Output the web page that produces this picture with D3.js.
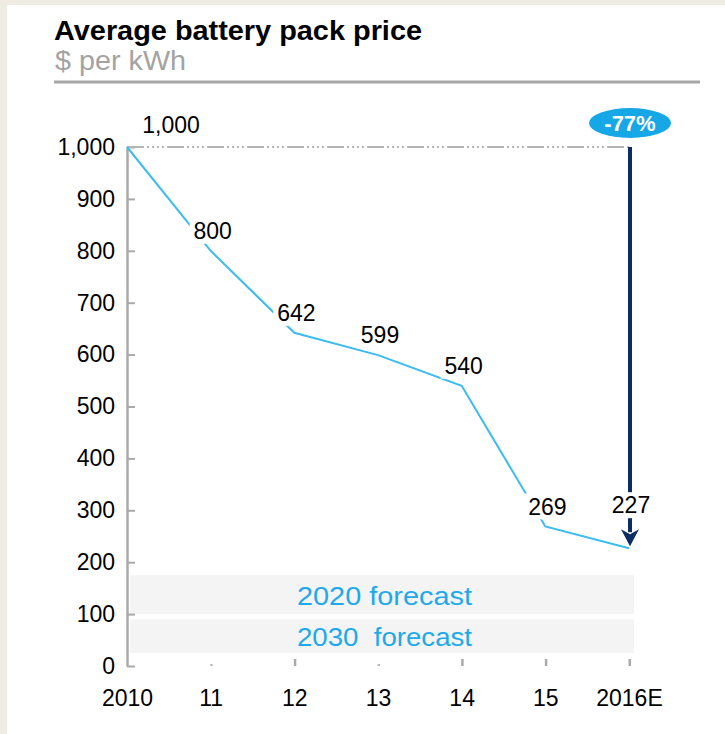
<!DOCTYPE html>
<html>
<head>
<meta charset="utf-8">
<script src="https://cdn.jsdelivr.net/npm/d3@7"></script>
<style>
  html, body { margin: 0; padding: 0; background: #efece3; }
  svg { display: block; }
  text { font-family: "Liberation Sans", Arial, sans-serif; }
</style>
</head>
<body>
<div id="chart"></div>
<script>
"use strict"

const years = ["2010", "11", "12", "13", "14", "15", "2016E"];
const prices = [1000, 800, 642, 599, 540, 269, 227];
const minorYears = ["11", "13"];
const yTicks = [0, 100, 200, 300, 400, 500, 600, 700, 800, 900, 1000];
const forecasts = [
  { label: "2020 forecast", top: 175, bottom: 100 },
  { label: "2030  forecast", top: 90, bottom: 25 }
];
const change = "-77%";

let width = 725, height = 734;
let fontSize = 23;

let svg = d3.select("#chart")
  .append("svg")
  .attr("width", width)
  .attr("height", height);

// white panel on the beige page
svg.append("rect")
  .attr("x", 7).attr("y", 5)
  .attr("width", width - 7).attr("height", height - 5)
  .attr("fill", "#fff");

// title block
svg.append("text")
  .attr("x", 54).attr("y", 40)
  .attr("font-size", 27).attr("font-weight", "bold")
  .attr("fill", "#000")
  .attr("textLength", 368).attr("lengthAdjust", "spacingAndGlyphs")
  .text("Average battery pack price");

svg.append("text")
  .attr("x", 55).attr("y", 70)
  .attr("font-size", 27)
  .attr("fill", "#a3a3a3")
  .attr("textLength", 131).attr("lengthAdjust", "spacingAndGlyphs")
  .text("$ per kWh");

svg.append("line")
  .attr("x1", 54).attr("x2", 700)
  .attr("y1", 82).attr("y2", 82)
  .attr("stroke", "#a6a6a6").attr("stroke-width", 3);

let x = d3.scalePoint()
  .domain(years)
  .range([127, 629]);

let y = d3.scaleLinear()
  .domain([0, 1000])
  .range([666, 147]);

// forecast bands
let bands = svg.append("g");
bands.selectAll("rect")
  .data(forecasts)
  .enter()
  .append("rect")
  .attr("x", x(years[0]) + 3)
  .attr("width", x(years[years.length - 1]) + 5 - x(years[0]) - 3)
  .attr("y", d => y(d.top))
  .attr("height", d => y(d.bottom) - y(d.top))
  .attr("fill", "#f4f4f4");

bands.selectAll("text")
  .data(forecasts)
  .enter()
  .append("text")
  .attr("x", 472)
  .attr("y", (d, i) => i == 0 ? 605 : 646)
  .attr("text-anchor", "end")
  .attr("font-size", 26)
  .attr("fill", "#1eaaea")
  .attr("textLength", 175).attr("lengthAdjust", "spacingAndGlyphs")
  .style("white-space", "pre")
  .text(d => d.label);

// y axis
let yAxis = svg.append("g")
  .attr("transform", "translate(" + x(years[0]) + ",0)")
  .call(d3.axisLeft(y).tickValues(yTicks).tickFormat(d3.format(","))
    .tickSizeInner(-8).tickSizeOuter(0).tickPadding(12));
yAxis.select(".domain").attr("stroke", "#aaa").attr("stroke-width", 2.5);
yAxis.selectAll(".tick line").attr("stroke", "#aaa").attr("stroke-width", 2);
yAxis.selectAll(".tick text")
  .attr("font-size", fontSize).attr("fill", "#000")
  .attr("font-family", "'Liberation Sans', Arial, sans-serif");

// x axis (no domain line)
let xAxis = svg.append("g")
  .attr("transform", "translate(0," + y(0) + ")")
  .call(d3.axisBottom(x).tickSize(0).tickPadding(24));
xAxis.select(".domain").remove();
xAxis.selectAll(".tick text")
  .attr("font-size", fontSize).attr("fill", "#000")
  .attr("font-family", "'Liberation Sans', Arial, sans-serif");

xAxis.selectAll(".tick")
  .filter(d => d != years[0])
  .append("rect")
  .attr("x", -1)
  .attr("width", 2.5)
  .attr("y", d => minorYears.includes(d) ? -2 : -7)
  .attr("height", d => minorYears.includes(d) ? 2 : 7)
  .attr("fill", d => minorYears.includes(d) ? "#bbb" : "#aaa");

// reference line at the starting price
svg.append("line")
  .attr("x1", x(years[0])).attr("x2", x(years[years.length - 1]))
  .attr("y1", y(prices[0])).attr("y2", y(prices[0]))
  .attr("stroke", "#b5b5b5").attr("stroke-width", 2)
  .attr("stroke-dasharray", "17,3,2,3,2,3,2,3,2,3");

// price line
let points = years.map((yr, i) => ({ year: yr, price: prices[i] }));

svg.append("path")
  .datum(points)
  .attr("fill", "none")
  .attr("stroke", "#3cbcef")
  .attr("stroke-width", 2)
  .attr("d", d3.line().x(d => x(d.year)).y(d => y(d.price)));

// drop arrow
let last = points[points.length - 1];
let ax = x(last.year) + 1;
svg.append("line")
  .attr("x1", ax).attr("x2", ax)
  .attr("y1", y(prices[0])).attr("y2", y(last.price) - 16)
  .attr("stroke", "#0c2d63").attr("stroke-width", 4);
svg.append("path")
  .attr("d", "M" + (ax - 9) + "," + (y(last.price) - 19) +
             "L" + ax + "," + (y(last.price) - 14) +
             "L" + (ax + 9) + "," + (y(last.price) - 19) +
             "L" + ax + "," + (y(last.price) - 2) + "Z")
  .attr("fill", "#0c2d63");

// value labels with white knock-out boxes
let labels = svg.append("g");
let lab = labels.selectAll("g")
  .data(points)
  .enter()
  .append("g")
  .attr("transform", (d, i) => {
    let dx = 2, dy = -20;
    if (i == 0) { dx = 44; dy = -22; }
    if (i == points.length - 1) { dy = -43; }
    return "translate(" + (x(d.year) + dx) + "," + (y(d.price) + dy) + ")";
  });

lab.filter((d, i) => i > 0)
  .append("rect")
  .attr("x", -23).attr("y", -13)
  .attr("width", 46).attr("height", 26)
  .attr("fill", "#fff");

lab.append("text")
  .attr("text-anchor", "middle")
  .attr("dy", "0.36em")
  .attr("font-size", fontSize)
  .attr("fill", "#000")
  .text(d => d3.format(",")(d.price));

// change badge
svg.append("ellipse")
  .attr("cx", ax).attr("cy", 123)
  .attr("rx", 41).attr("ry", 15)
  .attr("fill", "#16a7e6");
svg.append("text")
  .attr("x", ax).attr("y", 123)
  .attr("dy", "0.36em")
  .attr("text-anchor", "middle")
  .attr("font-size", 22).attr("font-weight", "bold")
  .attr("fill", "#fff")
  .text(change);
</script>
</body>
</html>
